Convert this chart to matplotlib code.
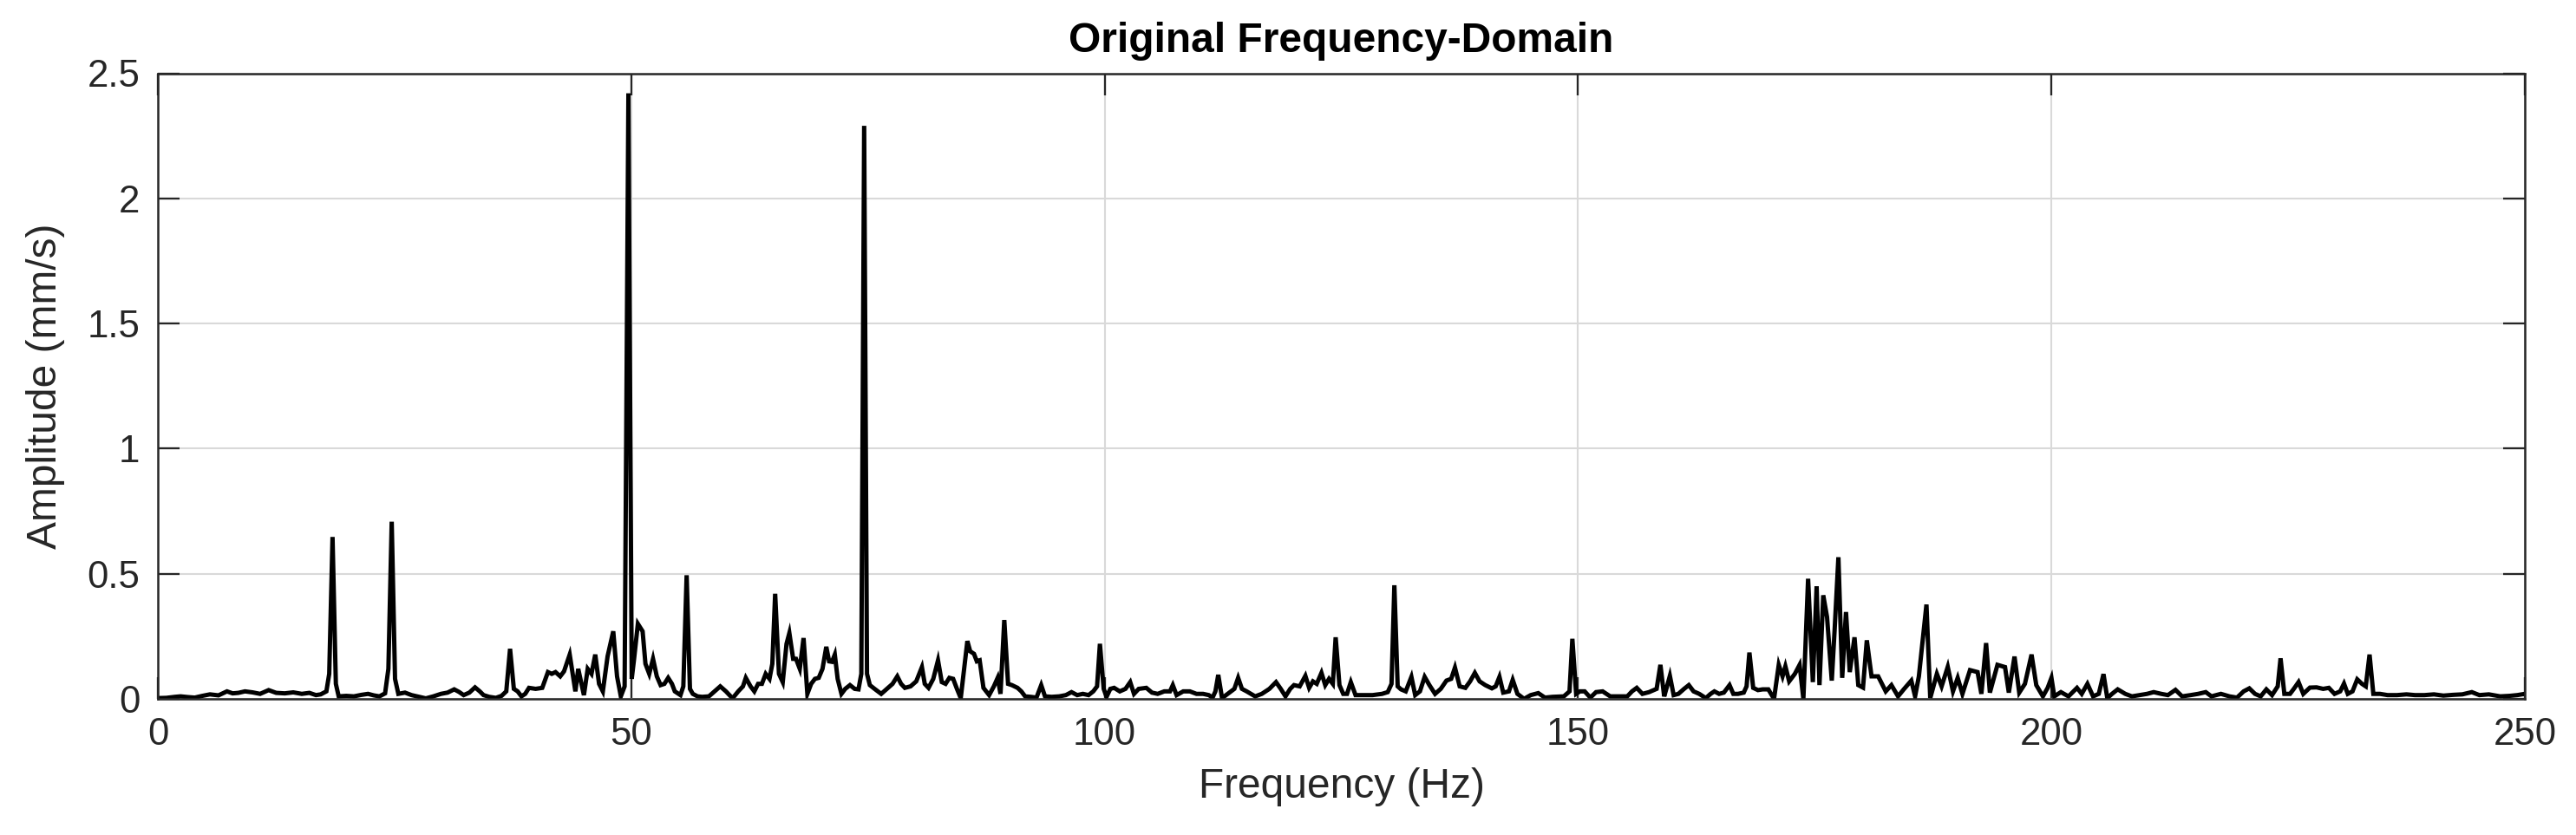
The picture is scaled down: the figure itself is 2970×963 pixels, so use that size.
import matplotlib
matplotlib.use('Agg')
import matplotlib.pyplot as plt
import numpy as np

# spectrum, (frequency Hz, amplitude mm/s), split into bands
band_0_41 = [
    (0.0, 0.003), (0.9, 0.004), (1.8, 0.008), (2.4, 0.010), (3.2, 0.007), (3.9, 0.005),
    (4.7, 0.012), (5.5, 0.018), (6.4, 0.014), (7.3, 0.030), (7.9, 0.022), (8.5, 0.024),
    (9.2, 0.030), (10.0, 0.026), (10.8, 0.020), (11.7, 0.035), (12.5, 0.024), (13.4, 0.022),
    (14.3, 0.026), (15.2, 0.020), (16.0, 0.024), (16.7, 0.015), (17.2, 0.018), (17.8, 0.030),
    (18.1, 0.10), (18.45, 0.647), (18.8, 0.06), (19.1, 0.010), (19.9, 0.012), (20.7, 0.010),
    (21.5, 0.016), (22.2, 0.020), (22.8, 0.014), (23.4, 0.010), (24.0, 0.022), (24.35, 0.12),
    (24.7, 0.708), (25.05, 0.08), (25.4, 0.020), (26.1, 0.025), (26.8, 0.015), (27.6, 0.008),
    (28.3, 0.002), (29.1, 0.010), (29.9, 0.020), (30.6, 0.025), (31.3, 0.038), (31.8, 0.028),
    (32.3, 0.015), (32.9, 0.025), (33.5, 0.046), (34.0, 0.030), (34.4, 0.015), (35.0, 0.008),
    (35.7, 0.004), (36.3, 0.012), (36.8, 0.030), (37.2, 0.20), (37.6, 0.040), (38.0, 0.030),
    (38.4, 0.010), (38.8, 0.020), (39.2, 0.044), (39.9, 0.040), (40.6, 0.044), (41.2, 0.107),
]
band_41_83 = [
    (41.6, 0.10), (42.0, 0.107), (42.5, 0.09), (42.9, 0.11), (43.5, 0.177), (44.1, 0.030),
    (44.4, 0.12), (45.0, 0.015), (45.4, 0.12), (45.8, 0.10), (46.2, 0.177), (46.6, 0.06),
    (47.0, 0.030), (47.5, 0.17), (48.1, 0.27), (48.5, 0.09), (48.9, 0.01), (49.3, 0.05),
    (49.7, 2.42), (50.05, 0.08), (50.3, 0.16), (50.7, 0.30), (51.2, 0.27), (51.5, 0.14),
    (51.9, 0.10), (52.3, 0.16), (52.7, 0.09), (53.1, 0.055), (53.5, 0.06), (53.9, 0.084),
    (54.3, 0.06), (54.6, 0.03), (55.2, 0.015), (55.5, 0.05), (55.85, 0.494), (56.2, 0.04),
    (56.5, 0.02), (57.0, 0.01), (57.5, 0.008), (58.2, 0.010), (58.8, 0.030), (59.4, 0.050),
    (60.0, 0.030), (60.7, 0.002), (61.3, 0.030), (61.8, 0.05), (62.1, 0.084), (62.6, 0.05),
    (63.0, 0.030), (63.4, 0.06), (63.8, 0.06), (64.2, 0.10), (64.6, 0.08), (64.9, 0.14),
    (65.2, 0.42), (65.6, 0.10), (66.0, 0.067), (66.4, 0.22), (66.7, 0.263), (67.1, 0.16),
    (67.4, 0.16), (67.8, 0.12), (68.2, 0.243), (68.6, 0.02), (69.0, 0.06), (69.4, 0.08),
    (69.8, 0.084), (70.2, 0.12), (70.6, 0.208), (70.9, 0.15), (71.2, 0.148), (71.5, 0.177),
    (71.8, 0.08), (72.2, 0.02), (72.6, 0.04), (73.1, 0.055), (73.6, 0.04), (74.0, 0.038),
    (74.3, 0.10), (74.6, 2.29), (74.9, 0.10), (75.2, 0.055), (75.7, 0.04), (76.4, 0.02),
    (77.0, 0.04), (77.6, 0.06), (78.1, 0.09), (78.5, 0.06), (78.9, 0.044), (79.5, 0.05),
    (80.1, 0.07), (80.7, 0.127), (81.0, 0.06), (81.4, 0.044), (81.9, 0.08), (82.4, 0.154),
    (82.8, 0.067), (83.2, 0.06),
]
band_83_125 = [
    (83.6, 0.084), (84.0, 0.08), (84.4, 0.04), (84.8, 0.003), (85.1, 0.10), (85.5, 0.231),
    (85.8, 0.19), (86.2, 0.18), (86.5, 0.15), (86.8, 0.154), (87.2, 0.044), (87.8, 0.015),
    (88.3, 0.05), (88.7, 0.084), (89.0, 0.02), (89.4, 0.315), (89.8, 0.06), (90.2, 0.055),
    (90.8, 0.044), (91.2, 0.03), (91.6, 0.01), (92.2, 0.008), (92.8, 0.005), (93.3, 0.055),
    (93.7, 0.01), (94.4, 0.008), (95.2, 0.01), (95.9, 0.015), (96.5, 0.027), (97.1, 0.015),
    (97.7, 0.02), (98.3, 0.015), (98.8, 0.03), (99.2, 0.05), (99.5, 0.22), (99.9, 0.04),
    (100.2, 0.008), (100.6, 0.04), (101.0, 0.044), (101.6, 0.03), (102.2, 0.04), (102.7, 0.067),
    (103.1, 0.02), (103.6, 0.04), (104.4, 0.044), (105.0, 0.025), (105.6, 0.02), (106.3, 0.03),
    (106.9, 0.03), (107.2, 0.055), (107.6, 0.015), (108.3, 0.03), (109.0, 0.03), (109.7, 0.02),
    (110.4, 0.02), (111.0, 0.015), (111.4, 0.005), (111.7, 0.03), (112.0, 0.096), (112.4, 0.003),
    (113.0, 0.02), (113.7, 0.04), (114.1, 0.084), (114.5, 0.04), (115.0, 0.03), (115.9, 0.01),
    (116.6, 0.02), (117.4, 0.04), (118.1, 0.067), (118.6, 0.04), (119.1, 0.01), (119.6, 0.04),
    (120.0, 0.055), (120.6, 0.05), (121.2, 0.092), (121.6, 0.044), (122.0, 0.07), (122.4, 0.06),
    (122.9, 0.104), (123.3, 0.055), (123.7, 0.08), (124.1, 0.06), (124.4, 0.246), (124.8, 0.055),
]
band_125_166 = [
    (125.2, 0.02), (125.6, 0.02), (126.0, 0.067), (126.5, 0.015), (127.4, 0.015), (128.3, 0.015),
    (129.3, 0.02), (129.9, 0.027), (130.3, 0.06), (130.6, 0.454), (130.95, 0.05), (131.3, 0.038),
    (131.8, 0.03), (132.4, 0.088), (132.8, 0.015), (133.3, 0.03), (133.8, 0.088), (134.3, 0.055),
    (134.9, 0.02), (135.5, 0.04), (136.1, 0.073), (136.6, 0.08), (137.0, 0.125), (137.5, 0.05),
    (138.1, 0.044), (138.6, 0.07), (139.1, 0.104), (139.6, 0.07), (140.2, 0.055), (140.9, 0.042),
    (141.3, 0.05), (141.7, 0.088), (142.1, 0.025), (142.7, 0.03), (143.1, 0.076), (143.6, 0.02),
    (144.3, 0.0), (145.0, 0.015), (145.8, 0.023), (146.5, 0.005), (147.3, 0.008), (148.5, 0.01),
    (149.1, 0.03), (149.4, 0.24), (149.8, 0.02), (150.2, 0.03), (150.7, 0.03), (151.3, 0.005),
    (151.9, 0.027), (152.6, 0.03), (153.4, 0.01), (154.3, 0.01), (155.2, 0.01), (155.7, 0.03),
    (156.2, 0.044), (156.8, 0.02), (157.5, 0.027), (158.3, 0.04), (158.7, 0.136), (159.1, 0.01),
    (159.4, 0.05), (159.7, 0.092), (160.1, 0.015), (160.6, 0.02), (161.2, 0.04), (161.7, 0.055),
    (162.2, 0.03), (162.8, 0.02), (163.5, 0.003), (164.0, 0.02), (164.4, 0.03), (164.9, 0.02),
    (165.4, 0.025), (166.0, 0.055),
]
band_166_208 = [
    (166.4, 0.02), (166.9, 0.02), (167.5, 0.025), (167.8, 0.05), (168.1, 0.185), (168.5, 0.044),
    (169.0, 0.035), (169.5, 0.038), (170.1, 0.038), (170.7, 0.0), (171.2, 0.136), (171.6, 0.09),
    (171.9, 0.13), (172.3, 0.07), (172.9, 0.10), (173.4, 0.136), (173.8, 0.0), (174.3, 0.48),
    (174.8, 0.067), (175.2, 0.45), (175.5, 0.055), (175.9, 0.414), (176.3, 0.327), (176.8, 0.073),
    (177.1, 0.275), (177.5, 0.566), (177.9, 0.084), (178.3, 0.347), (178.7, 0.107), (179.2, 0.246),
    (179.6, 0.055), (180.1, 0.045), (180.5, 0.234), (181.0, 0.09), (181.7, 0.09), (182.5, 0.03),
    (183.1, 0.055), (183.8, 0.01), (184.4, 0.038), (185.2, 0.073), (185.6, 0.01), (186.0, 0.09),
    (186.8, 0.377), (187.2, 0.003), (187.9, 0.10), (188.4, 0.05), (189.05, 0.128), (189.6, 0.03),
    (190.1, 0.084), (190.6, 0.02), (191.4, 0.115), (192.2, 0.107), (192.6, 0.02), (193.1, 0.223),
    (193.5, 0.025), (194.3, 0.136), (195.1, 0.127), (195.5, 0.025), (196.1, 0.169), (196.6, 0.025),
    (197.2, 0.06), (197.9, 0.177), (198.4, 0.055), (199.1, 0.01), (199.6, 0.044), (200.0, 0.084),
    (200.3, 0.01), (201.0, 0.027), (201.8, 0.01), (202.7, 0.044), (203.2, 0.02), (203.8, 0.06),
    (204.4, 0.01), (205.0, 0.02), (205.5, 0.099), (205.9, 0.003), (206.4, 0.02), (207.0, 0.038),
    (207.8, 0.02),
]
band_208_250 = [
    (208.5, 0.01), (209.3, 0.015), (210.1, 0.02), (210.8, 0.027), (211.6, 0.02), (212.3, 0.015),
    (213.1, 0.036), (213.8, 0.01), (214.7, 0.015), (215.5, 0.02), (216.3, 0.027), (216.9, 0.01),
    (217.9, 0.02), (218.8, 0.01), (219.6, 0.005), (220.3, 0.03), (220.9, 0.042), (221.5, 0.02),
    (222.1, 0.01), (222.7, 0.038), (223.3, 0.015), (223.9, 0.05), (224.2, 0.162), (224.6, 0.02),
    (225.2, 0.02), (225.6, 0.04), (226.1, 0.067), (226.6, 0.02), (227.3, 0.045), (228.0, 0.046),
    (228.7, 0.04), (229.3, 0.044), (229.9, 0.02), (230.5, 0.03), (230.9, 0.061), (231.3, 0.02),
    (231.8, 0.03), (232.3, 0.078), (232.8, 0.06), (233.2, 0.05), (233.6, 0.177), (234.0, 0.02),
    (234.7, 0.02), (235.5, 0.015), (236.5, 0.015), (237.5, 0.018), (238.4, 0.015), (239.4, 0.015),
    (240.4, 0.018), (241.4, 0.013), (242.4, 0.016), (243.4, 0.018), (244.4, 0.027), (245.2, 0.015),
    (246.2, 0.018), (247.4, 0.01), (248.4, 0.012), (249.2, 0.015), (250.0, 0.02),
]

x_ticks = [0, 50, 100, 150, 200, 250]
y_ticks = [0, 0.5, 1, 1.5, 2, 2.5]
y_tick_labels = ['0', '0.5', '1', '1.5', '2', '2.5']

pts = np.array(band_0_41 + band_41_83 + band_83_125 + band_125_166 + band_166_208 + band_208_250)
freq = pts[:, 0]
amp = pts[:, 1]

plt.rcParams['font.family'] = ['Liberation Sans', 'DejaVu Sans']
dark = '#262626'

fig = plt.figure(figsize=(9.9, 3.21), dpi=300)
ax = fig.add_axes([182 / 2970, 1 - 806 / 963, (2911 - 182) / 2970, (806 - 84.5) / 963])

ax.plot(freq, amp, color='black', lw=1.2, solid_joinstyle='miter')

ax.set_xlim(0, 250)
ax.set_ylim(0, 2.5)
ax.set_xticks(x_ticks)
ax.set_yticks(y_ticks)
ax.set_yticklabels(y_tick_labels)
ax.grid(True, color='#d9d9d9', lw=0.5)
ax.set_axisbelow(True)
ax.tick_params(direction='in', length=6, width=0.55, colors=dark, labelsize=10.5,
               top=True, right=True, pad=5)
for s in ax.spines.values():
    s.set_color(dark)
    s.set_linewidth(0.6)

ax.set_xlabel('Frequency (Hz)', fontsize=11.5, color=dark, labelpad=4)
ax.set_ylabel('Amplitude (mm/s)', fontsize=11.5, color=dark, labelpad=6)
ax.set_title('Original Frequency-Domain', fontsize=11.5, fontweight='bold', color='black', pad=6)

fig.savefig('out.png', dpi=300)
